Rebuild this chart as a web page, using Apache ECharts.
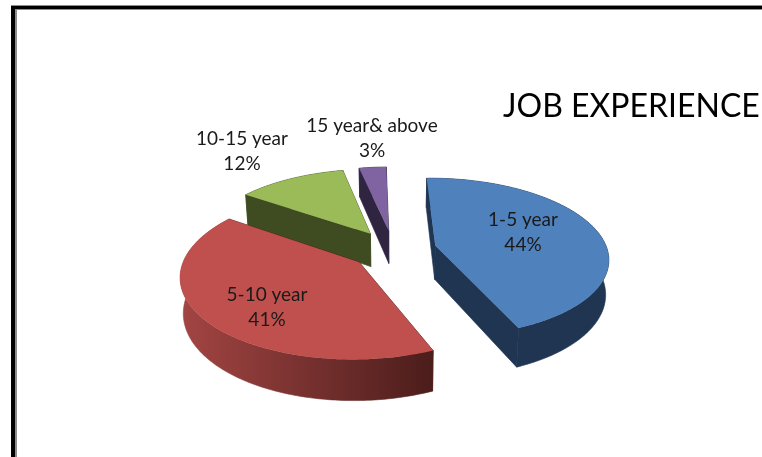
<!DOCTYPE html>
<html>
<head>
<meta charset="utf-8">
<style>html,body{margin:0;padding:0;background:#fff}#c{width:762px;height:457px}</style>
<script src="https://cdn.jsdelivr.net/npm/echarts@6/dist/echarts.min.js"></script>
</head>
<body>
<div id="c"></div>
<script>
const categories = ['1-5 year', '5-10 year', '10-15 year', '15 year& above'];
const shares = [44, 41, 12, 3];
const titleText = 'JOB EXPERIENCE';

const topColors = ['#4f81bd', '#c0504d', '#9bbb59', '#8064a2'];
const wallColors = [['#1f3552', '#1f3552'], ['#a34543', '#4b1d1b'], ['#3f4c22', '#3f4c22'], ['#2f2541', '#2f2541']];
const labelPositions = [[523, 232], [267, 307], [242, 151], [372, 138]];

const view = { cx: 393.5, cy: 249.5, rx: 172, ry: 78.5, explode: 0.25, persp: 0.15, depth: 34, bottomShrink: 0.985, startDeg: -1.2 };
const rad = Math.PI / 180;
const total = shares.reduce((a, b) => a + b, 0);
let running = view.startDeg;
const slices = shares.map(v => {
  const start = running;
  running += v / total * 360;
  return { start, end: running, mid: (start + running) / 2 };
});

function project(u, v, lowered) {
  const s = 1 / (1 - view.persp * v);
  const xs = lowered ? view.bottomShrink : 1;
  return [
    view.cx + view.rx * u * s * xs,
    view.cy + view.ry * v * s + (lowered ? view.depth * s : 0)
  ];
}
function rimPoint(sl, deg, lowered) {
  const off = view.explode;
  return project(
    off * Math.sin(sl.mid * rad) + Math.sin(deg * rad),
    -off * Math.cos(sl.mid * rad) - Math.cos(deg * rad),
    lowered
  );
}
function apexPoint(sl, lowered) {
  const off = view.explode;
  return project(off * Math.sin(sl.mid * rad), -off * Math.cos(sl.mid * rad), lowered);
}
function rim(sl, lowered) {
  const pts = [];
  const n = Math.max(8, Math.ceil(sl.end - sl.start));
  for (let i = 0; i <= n; i++) pts.push(rimPoint(sl, sl.start + (sl.end - sl.start) * i / n, lowered));
  return pts;
}

function renderItem(params, api) {
  const i = params.dataIndex;
  const sl = slices[i];
  const base = Math.round((-Math.cos(sl.mid * rad) + 1) * 20) * 5;
  const top = rim(sl, false), low = rim(sl, true);
  const a = apexPoint(sl, false), b = apexPoint(sl, true);
  const wallFill = new echarts.graphic.LinearGradient(0, 0, 1, 0, [
    { offset: 0, color: wallColors[i][0] },
    { offset: 1, color: wallColors[i][1] }
  ]);
  const poly = (points, fill, z2, stroke) => ({
    type: 'polygon', shape: { points },
    style: stroke ? { fill, stroke: fill, lineWidth: 0.6 } : { fill },
    z2
  });
  return {
    type: 'group',
    children: [
      poly([top[0], a, b, low[0]], wallColors[i][1], base, true),
      poly([top[top.length - 1], a, b, low[low.length - 1]], wallColors[i][1], base, true),
      poly(top.concat(low.slice().reverse()), wallFill, base + 1, true),
      poly([a].concat(top), topColors[i], base + 2, false),
      {
        type: 'text',
        z2: 1000,
        style: {
          x: labelPositions[i][0],
          y: labelPositions[i][1],
          text: categories[i] + '\n' + api.value(0) + '%',
          fill: '#1a1a1a',
          font: '19px Lato',
          lineHeight: 25,
          align: 'center',
          verticalAlign: 'middle'
        }
      }
    ]
  };
}

const chart = echarts.init(document.getElementById('c'), null, { renderer: 'canvas' });
chart.setOption({
  animation: false,
  backgroundColor: '#ffffff',
  title: {
    text: titleText,
    left: 498,
    top: 86,
    textStyle: { fontFamily: 'Lato', fontSize: 32, fontWeight: 'normal', color: '#000000' }
  },
  graphic: [
    { type: 'rect', shape: { x: 11, y: 5, width: 751, height: 5 }, style: { fill: '#8c8c8c' }, silent: true },
    { type: 'rect', shape: { x: 11, y: 5, width: 6, height: 452 }, style: { fill: '#8c8c8c' }, silent: true },
    { type: 'rect', shape: { x: 11, y: 6, width: 751, height: 3 }, style: { fill: '#000000' }, silent: true },
    { type: 'rect', shape: { x: 11, y: 6, width: 4, height: 451 }, style: { fill: '#000000' }, silent: true }
  ],
  series: [{
    type: 'custom',
    coordinateSystem: 'none',
    renderItem,
    data: shares.map((v, i) => ({ name: categories[i], value: [v] }))
  }]
});
</script>
</body>
</html>
